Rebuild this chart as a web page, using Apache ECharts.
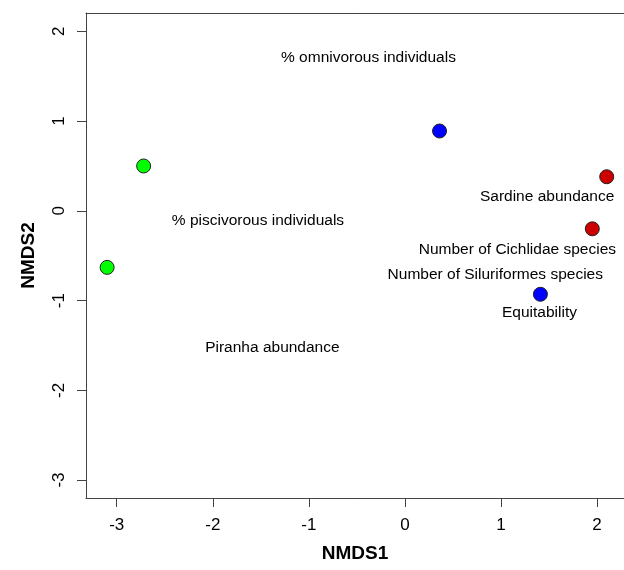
<!DOCTYPE html>
<html>
<head>
<meta charset="utf-8">
<script src="https://cdn.jsdelivr.net/npm/echarts@6/dist/echarts.min.js"></script>
<style>
  html, body { margin: 0; padding: 0; background: #fff; }
  #chart { width: 624px; height: 570px; }
</style>
</head>
<body>
<div id="chart"></div>
<script>
// site scores (NMDS1, NMDS2) by group
const greenPts = [[-2.72, 0.50], [-3.10, -0.63]];
const bluePts = [[0.36, 0.89], [1.41, -0.93]];
const redPts = [[2.10, 0.38], [1.95, -0.20]];

// variable labels placed in ordination space
const varNames = [
  "% omnivorous individuals",
  "% piscivorous individuals",
  "Sardine abundance",
  "Number of Cichlidae species",
  "Number of Siluriformes species",
  "Equitability",
  "Piranha abundance"
];
const varX = [-0.38, -1.53, 1.48, 1.17, 0.94, 1.40, -1.38];
const varY = [1.71, -0.11, 0.16, -0.43, -0.71, -1.14, -1.52];

const xTicks = [-3, -2, -1, 0, 1, 2];
const yTicks = [-3, -2, -1, 0, 1, 2];

const font = "Liberation Sans, Arial, sans-serif";
const chart = echarts.init(document.getElementById("chart"), null, { renderer: "canvas" });

function pts(data, color) {
  return {
    type: "scatter",
    data,
    symbolSize: 14,
    itemStyle: { color, opacity: 1, borderColor: "#222", borderWidth: 1 },
    z: 3
  };
}

const frame = { show: true, onZero: false, lineStyle: { color: "#444", width: 1 } };

chart.setOption({
  backgroundColor: "#fff",
  animation: false,
  grid: { left: 86, top: 13, right: 0, bottom: 72 },
  xAxis: [{
    type: "value",
    min: -3.32,
    max: 2.28,
    name: "NMDS1",
    nameLocation: "middle",
    nameGap: 46,
    nameTextStyle: { fontFamily: font, fontSize: 19, fontWeight: "bold", color: "#000" },
    axisLine: frame,
    splitLine: { show: false },
    axisTick: { show: true, customValues: xTicks, length: 9, lineStyle: { color: "#444" } },
    axisLabel: { customValues: xTicks, fontFamily: font, fontSize: 17, color: "#000", margin: 19 }
  }, {
    type: "value",
    position: "top",
    min: -3.32,
    max: 2.28,
    axisLine: frame,
    splitLine: { show: false },
    axisTick: { show: false },
    axisLabel: { show: false }
  }],
  yAxis: {
    type: "value",
    min: -3.2,
    max: 2.205,
    name: "NMDS2",
    nameLocation: "middle",
    nameGap: 48,
    nameRotate: 90,
    nameTextStyle: { fontFamily: font, fontSize: 19, fontWeight: "bold", color: "#000" },
    axisLine: frame,
    splitLine: { show: false },
    axisTick: { show: true, customValues: yTicks, length: 9, lineStyle: { color: "#444" } },
    axisLabel: { customValues: yTicks, rotate: 90, fontFamily: font, fontSize: 17, color: "#000", margin: 18 }
  },
  series: [
    pts(greenPts, "#00ff00"),
    pts(bluePts, "#0000ff"),
    pts(redPts, "#cd0000"),
    {
      type: "scatter",
      data: varNames.map((n, i) => ({ name: n, value: [varX[i], varY[i]] })),
      symbolSize: 0,
      itemStyle: { opacity: 1 },
      label: {
        show: true,
        position: "inside",
        formatter: "{b}",
        fontFamily: font,
        fontSize: 15.5,
        color: "#000"
      },
      z: 2
    }
  ]
});
</script>
</body>
</html>
